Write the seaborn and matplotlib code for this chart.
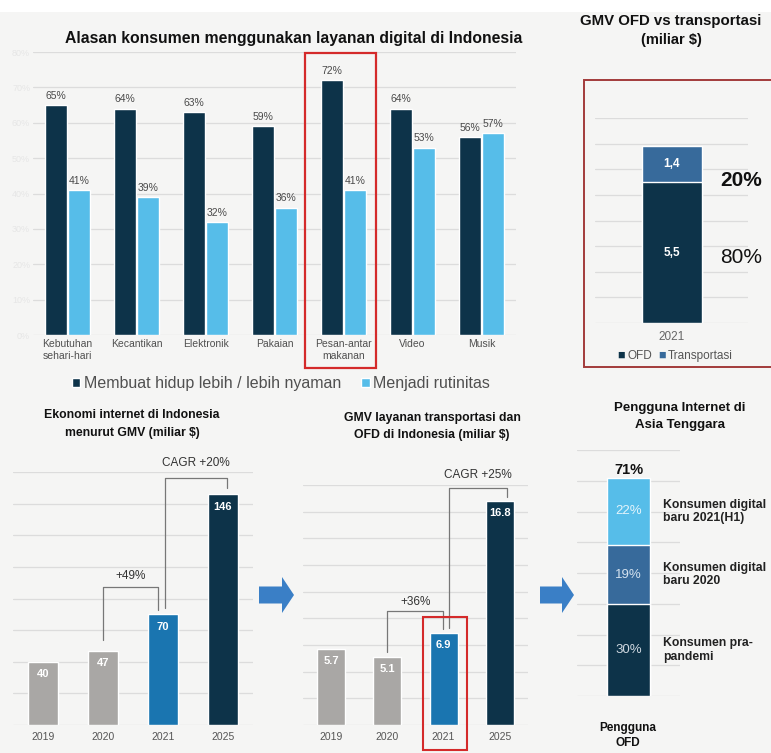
"""
Infografis layanan digital Indonesia: lima panel bar chart dalam satu gambar.
"""
import numpy as np
import pandas as pd
import matplotlib
matplotlib.use("Agg")
import matplotlib.pyplot as plt
from matplotlib.patches import Rectangle, Polygon
import seaborn as sns

# --- data ---------------------------------------------------------------
alasan_kategori = ["Kebutuhan\nsehari-hari", "Kecantikan", "Elektronik", "Pakaian",
                   "Pesan-antar\nmakanan", "Video", "Musik"]
alasan_nyaman = [65, 64, 63, 59, 72, 64, 56]
alasan_rutin = [41, 39, 32, 36, 41, 53, 57]
alasan_seri = ["Membuat hidup lebih / lebih nyaman", "Menjadi rutinitas"]

gmv_tahun = ["2021"]
gmv_ofd = [5.5]
gmv_transport = [1.4]
gmv_share = ["80%", "20%"]

ekonomi_tahun = ["2019", "2020", "2021", "2025"]
ekonomi_gmv = [40, 47, 70, 146]
ekonomi_growth = ["+49%", "CAGR +20%"]

ofd_tahun = ["2019", "2020", "2021", "2025"]
ofd_gmv = [5.7, 5.1, 6.9, 16.8]
ofd_growth = ["+36%", "CAGR +25%"]

pengguna_seg = ["Konsumen pra-\npandemi", "Konsumen digital\nbaru 2020", "Konsumen digital\nbaru 2021(H1)"]
pengguna_pct = [30, 19, 22]

# --- style --------------------------------------------------------------
W, H = 771, 753
BG = "#f5f5f4"
NAVY = "#0d3349"
LIGHT = "#56bde9"
MID = "#1a75b0"
STEEL = "#376a9b"
GREY = "#a9a7a5"
GRID = "#dcdcdc"
TXT = "#4a4a4a"
RED = "#d42a2a"

sns.set_theme(style="white")
plt.rcParams["font.family"] = ["Liberation Sans", "DejaVu Sans"]
NARROW = ["Liberation Sans Narrow", "Liberation Sans", "DejaVu Sans"]

fig = plt.figure(figsize=(W / 100, H / 100), dpi=100, facecolor=BG)


def px_axes(l, t, r, b):
    ax = fig.add_axes([l / W, 1 - b / H, (r - l) / W, (b - t) / H])
    ax.set_facecolor("none")
    for s in ax.spines.values():
        s.set_visible(False)
    return ax


def ftext(x, y, s, **kw):
    return fig.text(x / W, 1 - y / H, s, **kw)


def px_rect(l, t, r, b, **kw):
    fig.patches.append(Rectangle((l / W, 1 - b / H), (r - l) / W, (b - t) / H,
                                 transform=fig.transFigure, fill=False, **kw))


def px_arrow(x0, x1, xh, yc, shaft, head, color):
    pts = [(x0, yc - shaft / 2), (xh, yc - shaft / 2), (xh, yc - head / 2), (x1, yc),
           (xh, yc + head / 2), (xh, yc + shaft / 2), (x0, yc + shaft / 2)]
    pts = [(x / W, 1 - y / H) for x, y in pts]
    fig.patches.append(Polygon(pts, closed=True, transform=fig.transFigure,
                               facecolor=color, edgecolor="none"))


def hgrid(ax, ticks):
    ax.set_yticks(ticks)
    ax.yaxis.grid(True, color=GRID, lw=0.9)
    ax.set_axisbelow(True)


# white strip at the very top
fig.patches.append(Rectangle((0, 1 - 12 / H), 1, 12 / H, transform=fig.transFigure,
                             facecolor="white", edgecolor="none"))

# --- panel 1: alasan konsumen -------------------------------------------
df1 = pd.DataFrame({
    "kategori": alasan_kategori * 2,
    "nilai": alasan_nyaman + alasan_rutin,
    "seri": [alasan_seri[0]] * 7 + [alasan_seri[1]] * 7,
})
ax1 = px_axes(33, 52, 516, 335)
sns.barplot(data=df1, x="kategori", y="nilai", hue="seri", order=alasan_kategori,
            hue_order=alasan_seri, palette=[NAVY, LIGHT], width=0.68, gap=0.06,
            saturation=1, ax=ax1)
ax1.set_xlim(-0.5, 6.5)
ax1.set_ylim(0, 80)
hgrid(ax1, np.arange(0, 81, 10))
ax1.set_yticklabels([f"{v}%" for v in range(0, 81, 10)], color="#e6e6e6", fontsize=6.5)
ax1.tick_params(axis="y", length=0, pad=2)
ax1.tick_params(axis="x", length=0, pad=3, labelsize=7.5, labelcolor="#505050")
ax1.set_xlabel("")
ax1.set_ylabel("")
for c in ax1.containers:
    ax1.bar_label(c, fmt="%d%%", fontsize=7.5, color=TXT, padding=3)
handles, labels = ax1.get_legend_handles_labels()
ax1.legend(handles, labels, loc="upper left", bbox_to_anchor=(0.05, -0.095), ncol=2,
           frameon=False, fontsize=11.5, labelcolor="#505050", handlelength=0.55,
           handleheight=0.55, handletextpad=0.25, columnspacing=1.2)
ftext(294, 38, "Alasan konsumen menggunakan layanan digital di Indonesia",
      ha="center", va="center", fontsize=11.3, fontweight="bold", color="#111111")
px_rect(305, 53, 376, 368, edgecolor=RED, lw=1.6)

# --- panel 2: GMV OFD vs transportasi -------------------------------------
ax2 = px_axes(595, 118, 748, 323)
total = [a + b for a, b in zip(gmv_ofd, gmv_transport)]
sns.barplot(x=gmv_tahun, y=total, color=STEEL, saturation=1, width=0.6, ax=ax2)
sns.barplot(x=gmv_tahun, y=gmv_ofd, color=NAVY, saturation=1, width=0.6, ax=ax2)
ax2.set_xlim(-0.765, 0.765)
ax2.set_ylim(0, 8)
hgrid(ax2, np.arange(0, 9, 1))
ax2.set_yticklabels([])
ax2.tick_params(axis="y", length=0)
ax2.tick_params(axis="x", length=0, pad=6, labelsize=8.5, labelcolor="#666666")
ax2.text(0, gmv_ofd[0] / 2, f"{gmv_ofd[0]:.1f}".replace(".", ","), ha="center", va="center",
         color="white", fontsize=8.5, fontweight="bold")
ax2.text(0, gmv_ofd[0] + gmv_transport[0] / 2, f"{gmv_transport[0]:.1f}".replace(".", ","),
         ha="center", va="center", color="white", fontsize=8.5, fontweight="bold")
ftext(720, 181, gmv_share[1], fontsize=15, fontweight="bold", va="center", color="#111111")
ftext(720, 258, gmv_share[0], fontsize=15, va="center", color="#111111")
ftext(671, 21, "GMV OFD vs transportasi", ha="center", va="center",
      fontsize=10.8, fontweight="bold", color="#111111")
ftext(671, 40, "(miliar $)", ha="center", va="center", fontsize=10.5,
      fontweight="bold", color="#111111")
ftext(617, 356, "■", fontsize=9, color=NAVY, va="center")
ftext(627, 356, "OFD", fontsize=8.5, color="#555555", va="center")
ftext(658, 356, "■", fontsize=9, color=STEEL, va="center")
ftext(668, 356, "Transportasi", fontsize=8.5, color="#555555", va="center")
px_rect(584, 80, 772, 367, edgecolor="#a23a3a", lw=1.4)


# --- growth bars (panels 3 and 4) -----------------------------------------
def growth_panel(ax, years, vals, ymax, step, fmt):
    cols = [GREY, GREY, MID, NAVY]
    sns.barplot(x=years, y=vals, hue=years, palette=cols, saturation=1, width=0.5,
                legend=False, ax=ax)
    ax.set_xlim(-0.5, 3.5)
    ax.set_ylim(0, ymax)
    hgrid(ax, np.arange(0, ymax + 0.01, step))
    ax.set_yticklabels([])
    ax.tick_params(axis="y", length=0)
    ax.tick_params(axis="x", length=0, pad=5, labelsize=7.5, labelcolor="#555555")
    for lab in ax.get_xticklabels():
        lab.set_family(NARROW)
    for i, v in enumerate(vals):
        ax.text(i, v - ymax * 0.03, fmt.format(v), ha="center", va="top", color="white",
                fontsize=8, fontweight="bold", family=NARROW)


def bracket(ax, x0, y0, x1, y1, ytop, label, ylab):
    ax.plot([x0, x0, x1, x1], [y0, ytop, ytop, y1], color="#777777", lw=0.9, clip_on=False)
    ax.text((x0 + x1) / 2, ylab, label, ha="center", va="center", fontsize=8.5,
            color="#333333", family=NARROW, clip_on=False)


ax3 = px_axes(13, 472, 253, 725)
growth_panel(ax3, ekonomi_tahun, ekonomi_gmv, 160, 20, "{:d}")
bracket(ax3, 1.0, 54, 1.92, 73, 87, ekonomi_growth[0], 94)
bracket(ax3, 2.04, 74, 3.07, 150, 156, ekonomi_growth[1], 166)
ftext(132, 415, "Ekonomi internet di Indonesia", ha="center", va="center",
      fontsize=8.8, fontweight="bold", family=NARROW, color="#111111")
ftext(132, 433, "menurut GMV (miliar $)", ha="center", va="center",
      fontsize=8.8, fontweight="bold", family=NARROW, color="#111111")

ax4 = px_axes(303, 485, 528, 725)
growth_panel(ax4, ofd_tahun, ofd_gmv, 18, 2, "{:.1f}")
bracket(ax4, 1.0, 5.5, 1.99, 7.2, 8.55, ofd_growth[0], 9.25)
bracket(ax4, 2.1, 7.3, 3.13, 17.1, 17.8, ofd_growth[1], 18.75)
ftext(432, 418, "GMV layanan transportasi dan", ha="center", va="center",
      fontsize=8.8, fontweight="bold", family=NARROW, color="#111111")
ftext(432, 435, "OFD di Indonesia (miliar $)", ha="center", va="center",
      fontsize=8.8, fontweight="bold", family=NARROW, color="#111111")
px_rect(423, 617, 467, 750, edgecolor=RED, lw=1.5)

px_arrow(259, 294, 282, 595, 17, 36, "#3a7fc6")
px_arrow(540, 574, 562, 595, 17, 36, "#3a7fc6")

# --- panel 5: pengguna internet Asia Tenggara -----------------------------
ax5 = px_axes(577, 450, 680, 696)
cum = np.cumsum(pengguna_pct)
seg_cols = [NAVY, STEEL, LIGHT]
for i in range(len(pengguna_pct) - 1, -1, -1):
    sns.barplot(x=["OFD"], y=[cum[i]], color=seg_cols[i], saturation=1, width=1.0, ax=ax5)
ax5.set_xlim(-1.226, 1.226)
ax5.set_ylim(0, 80)
hgrid(ax5, np.arange(0, 81, 10))
ax5.set_yticklabels([])
ax5.set_xticklabels([])
ax5.tick_params(length=0)
ax5.set_xlabel("")
seg_txt = ["#cfd8e0", "#d4e2ef", "#e3f4fb"]
for i, v in enumerate(pengguna_pct):
    mid = cum[i] - v / 2
    ax5.text(0, mid, f"{v}%", ha="center", va="center", color=seg_txt[i], fontsize=9.5)
    ax5.text(0.83, mid, pengguna_seg[i], ha="left", va="center", fontsize=8.8,
             fontweight="bold", color="#222222", linespacing=1.15, clip_on=False)
ax5.text(0, cum[-1] + 0.3, f"{cum[-1]}%", ha="center", va="bottom", fontsize=10.5,
         fontweight="bold", color="#111111")
ftext(680, 408, "Pengguna Internet di", ha="center", va="center",
      fontsize=9.5, fontweight="bold", color="#111111")
ftext(680, 425, "Asia Tenggara", ha="center", va="center",
      fontsize=9.5, fontweight="bold", color="#111111")
ftext(628, 728, "Pengguna", ha="center", va="center", fontsize=8.5,
      fontweight="bold", color="#111111")
ftext(628, 743, "OFD", ha="center", va="center", fontsize=8.5,
      fontweight="bold", color="#111111")

fig.savefig("out.png", dpi=100, facecolor=BG)
